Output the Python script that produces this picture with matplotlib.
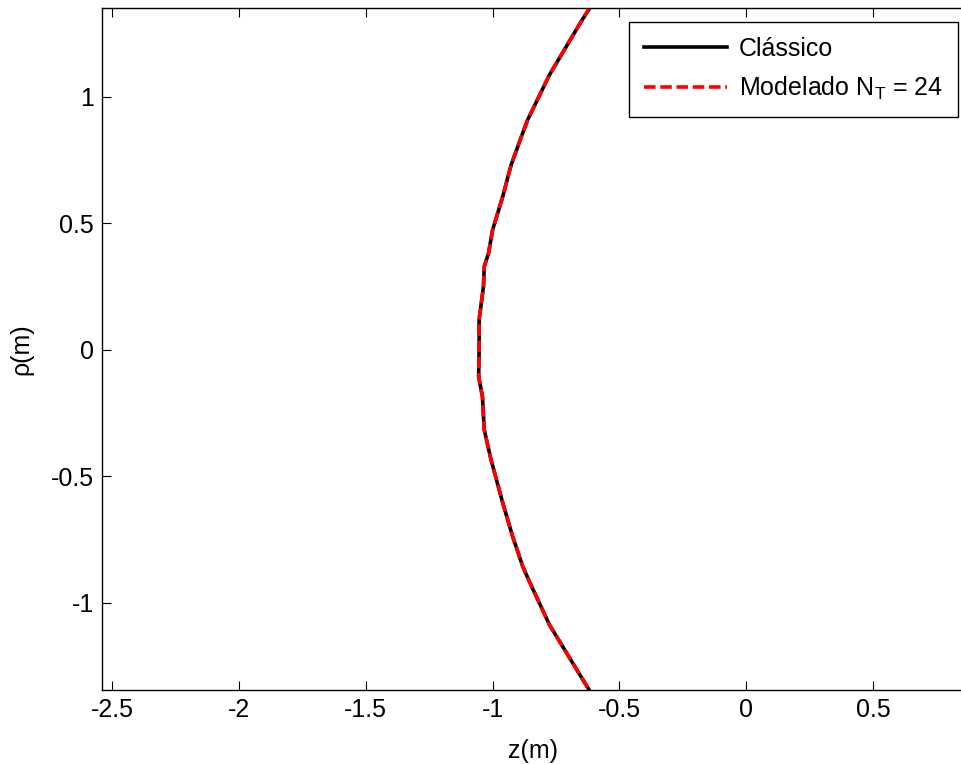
import matplotlib
matplotlib.use("Agg")
import matplotlib.pyplot as plt

plt.rcParams['font.family'] = ['Liberation Sans', 'DejaVu Sans']
plt.rcParams['mathtext.default'] = 'regular'

# Wavefront profile: rho (m) vs z (m)
rho = [-1.45, -1.344, -1.087, -0.916, -0.857, -0.738, -0.605, -0.435, -0.316,
       -0.185, -0.105, 0.0, 0.119, 0.250, 0.329, 0.382, 0.474, 0.606, 0.731,
       0.850, 0.909, 1.087, 1.298, 1.347, 1.45]
z = [-0.57, -0.620, -0.776, -0.855, -0.881, -0.921, -0.960, -1.006, -1.033,
     -1.040, -1.055, -1.053, -1.053, -1.036, -1.033, -1.016, -1.000, -0.960,
     -0.927, -0.884, -0.862, -0.776, -0.651, -0.620, -0.57]

xticks = [-2.5, -2, -1.5, -1, -0.5, 0, 0.5]
yticks = [-1, -0.5, 0, 0.5, 1]

fs = 18

fig = plt.figure(figsize=(9.61, 7.64), dpi=100)
ax = fig.add_axes([0.1061, 0.0969, 0.8961, 0.8927])

ax.plot(z, rho, color='black', lw=2.6, label='Clássico')
ax.plot(z, rho, color='red', lw=2.6, linestyle=(0, (3.2, 1.3)),
        label='Modelado N$_T$ = 24')

ax.set_xlim(-2.54, 0.855)
ax.set_ylim(-1.345, 1.352)
ax.set_xticks(xticks)
ax.set_xticklabels([f"{t:g}" for t in xticks])
ax.set_yticks(yticks)
ax.set_yticklabels([f"{t:g}" for t in yticks])
ax.tick_params(direction='in', length=6.5, width=0.8, labelsize=fs,
               top=True, right=False, pad=6)
for s in ax.spines.values():
    s.set_linewidth(1.0)

ax.set_xlabel('z(m)', fontsize=fs, labelpad=12)
ax.set_ylabel('ρ(m)', fontsize=fs, labelpad=12)

leg = ax.legend(loc='upper right', bbox_to_anchor=(0.9942, 0.9795),
                borderaxespad=0, fontsize=fs, fancybox=False, framealpha=1,
                edgecolor='black', handlelength=3.3, borderpad=0.6,
                labelspacing=0.55, handletextpad=0.5)
leg.get_frame().set_linewidth(1.0)

fig.savefig('out.png', dpi=100)
